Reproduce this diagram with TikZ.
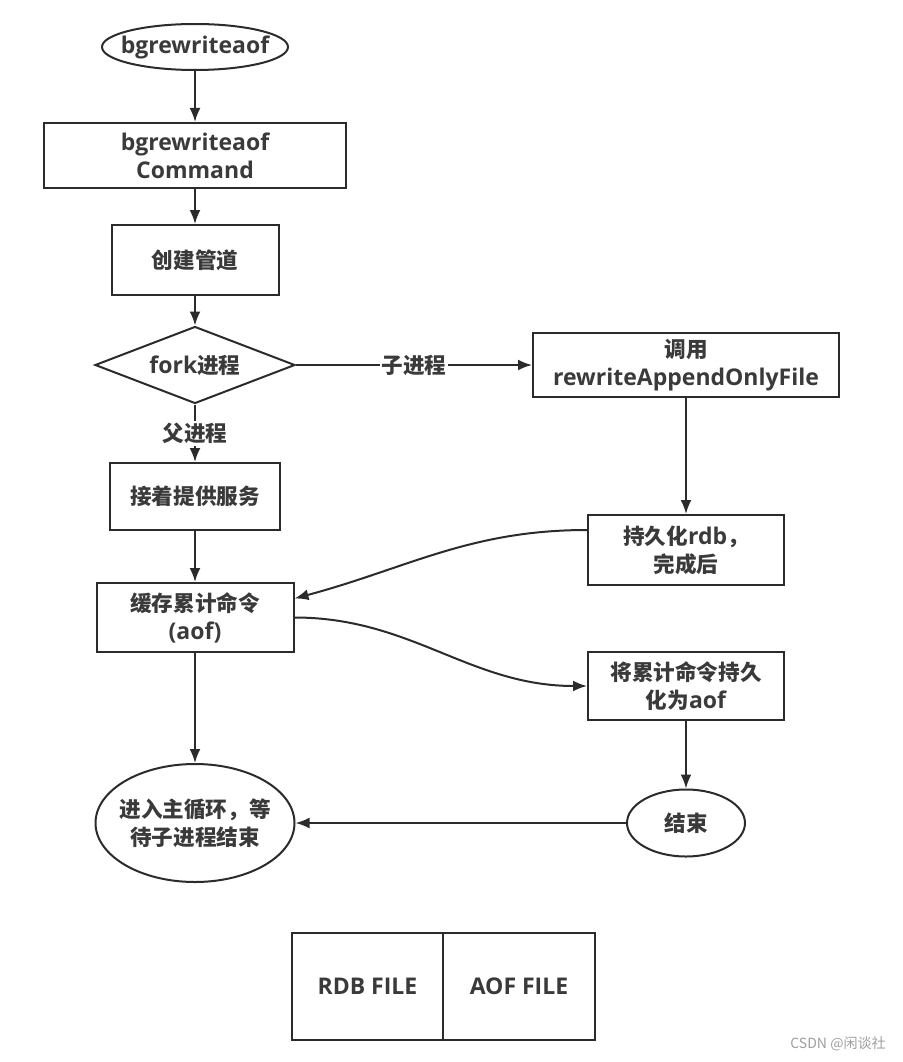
\documentclass[tikz,border=0pt]{standalone}
\usepackage{fontspec}
\setmainfont{Open Sans}[Scale=1.15]
\newfontfamily\cjk[Scale=1.08]{Noto Sans CJK SC}
\usetikzlibrary{shapes.geometric,arrows.meta}
\definecolor{linegray}{HTML}{2B2B2B}
\definecolor{textgray}{HTML}{3A3A3A}
\begin{document}
\begin{tikzpicture}[
  x=1pt, y=-1pt,
  font=\fontsize{20}{28}\selectfont\bfseries,
  proc/.style={draw=linegray, line width=2pt, rectangle, inner sep=0pt, text=textgray, align=center},
  term/.style={draw=linegray, line width=2pt, ellipse, inner sep=0pt, text=textgray, align=center},
  choice/.style={draw=linegray, line width=2pt, diamond, aspect=2.6, inner sep=0pt, text=textgray},
  arr/.style={draw=linegray, line width=2pt, -{Latex[length=14pt,width=11pt]}},
  elabel/.style={fill=white, inner sep=2pt, text=textgray}
]
  \useasboundingbox (0,0) rectangle (902,1062);

  % left column
  \node[term, inner xsep=-10pt, minimum width=186pt, minimum height=46pt] (start) at (195,47) {bgrewriteaof};
  \node[proc, minimum width=302pt, minimum height=65pt] (cmd) at (195,155.5) {bgrewriteaof\\Command};
  \node[proc, minimum width=167pt, minimum height=70pt] (pipe) at (195,260) {\cjk 创建管道};
  \node[choice, minimum width=200pt, minimum height=77pt] (fork) at (195,365) {fork{\cjk 进程}};
  \node[proc, minimum width=170pt, minimum height=67pt] (serve) at (195,496.5) {\cjk 接着提供服务};
  \node[proc, minimum width=197pt, minimum height=69pt] (cache) at (195,617.5) {{\cjk 缓存累计命令}\\(aof)};
  \node[term, inner xsep=-15pt, minimum width=199pt, minimum height=118pt] (loop) at (195,823) {{\cjk 进入主循环，等}\\{\cjk 待子进程结束}};

  % right column
  \node[proc, minimum width=306pt, minimum height=64pt] (rewrite) at (686,365) {{\cjk 调用}\\rewriteAppendOnlyFile};
  \node[proc, minimum width=196pt, minimum height=70pt] (rdbdone) at (686,550) {{\cjk 持久化}rdb{\cjk ，}\\{\cjk 完成后}};
  \node[proc, minimum width=196pt, minimum height=68pt] (persist) at (686,686) {{\cjk 将累计命令持久}\\{\cjk 化为}aof};
  \node[term, minimum width=118pt, minimum height=67pt] (finish) at (686,823) {\cjk 结束};

  % files
  \node[proc, minimum width=151pt, minimum height=107pt] (rdbfile) at (367.5,986.5) {RDB FILE};
  \node[proc, minimum width=152pt, minimum height=107pt] (aoffile) at (519,986.5) {AOF FILE};

  % watermark
  \node[font=\fontsize{13}{15}\selectfont, text=gray!75] (mark) at (838,1044) {\cjk CSDN @闲谈社};

  % connectors
  \draw[arr] (start) -- (cmd);
  \draw[arr] (cmd) -- (pipe);
  \draw[arr] (pipe) -- (fork);
  \draw[arr] (fork) -- node[elabel] {\cjk 子进程} (rewrite);
  \draw[arr] (fork) -- node[elabel] {\cjk 父进程} (serve);
  \draw[arr] (serve) -- (cache);
  \draw[arr] (cache) -- (loop);
  \draw[arr] (rewrite) -- (rdbdone);
  \draw[arr] ([yshift=20pt]rdbdone.west) to[out=180, in=15] ([yshift=19pt]cache.east);
  \draw[arr] (cache.east) to[out=0, in=180] (persist.west);
  \draw[arr] (persist) -- (finish);
  \draw[arr] (finish) -- (loop);
\end{tikzpicture}
\end{document}
